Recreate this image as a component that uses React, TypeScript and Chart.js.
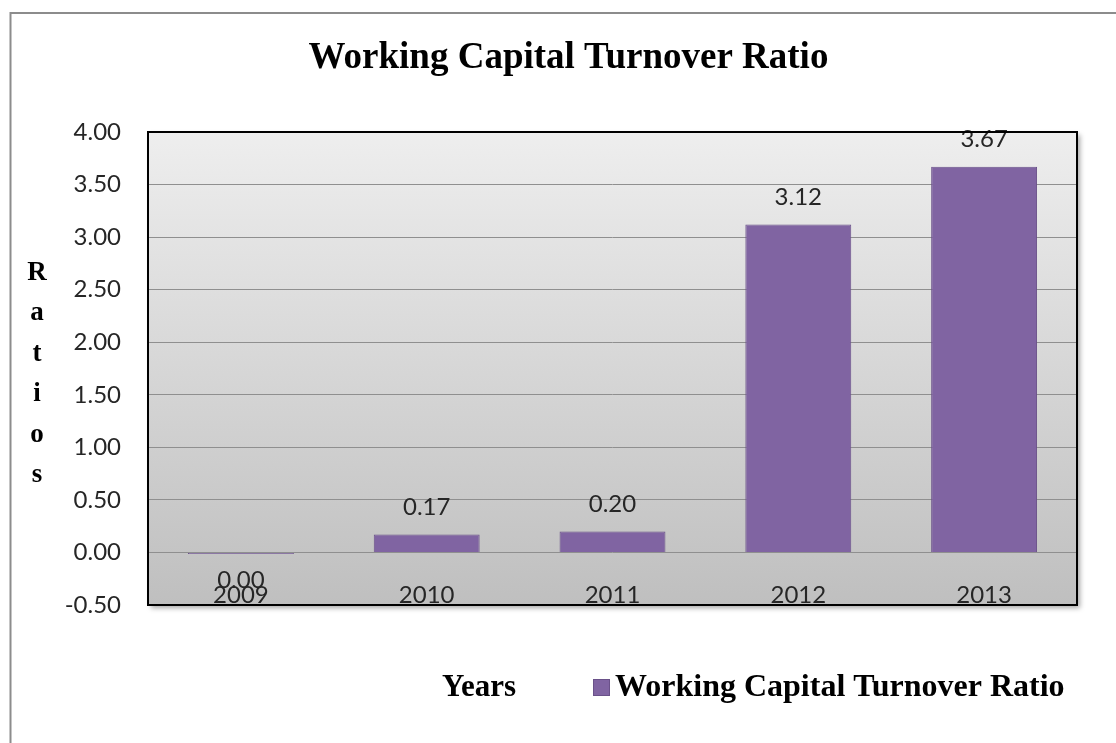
import React, { useEffect, useRef } from "react";
import { Chart, registerables } from "chart.js";

Chart.register(...registerables);

const categories = ["2009", "2010", "2011", "2012", "2013"];
const ratioValues = [-0.015, 0.17, 0.2, 3.12, 3.67];
const ratioLabels = ["0.00", "0.17", "0.20", "3.12", "3.67"];
const seriesName = "Working Capital Turnover Ratio";
const chartTitle = "Working Capital Turnover Ratio";
const yAxisTitleLetters = ["R", "a", "t", "i", "o", "s"];
const xAxisTitle = "Years";
const yMin = -0.5;
const yMax = 4;
const yStep = 0.5;

const SERIF = "'Liberation Serif', 'Times New Roman', serif";
const SANS = "Lato, 'Liberation Sans', sans-serif";

const decorPlugin = {
  id: "decor",
  beforeDraw(chart: any) {
    const { ctx, chartArea: a } = chart;
    ctx.save();
    // outer frame (left + top)
    ctx.strokeStyle = "#8c8c8c";
    ctx.lineWidth = 2;
    ctx.beginPath();
    ctx.moveTo(10.5, 743);
    ctx.lineTo(10.5, 13);
    ctx.lineTo(1116, 13);
    ctx.stroke();
    // plot area background with shadow
    const g = ctx.createLinearGradient(0, a.top, 0, a.bottom);
    g.addColorStop(0, "#eeeeee");
    g.addColorStop(1, "#bfbfbf");
    ctx.shadowColor = "rgba(0,0,0,0.35)";
    ctx.shadowBlur = 5;
    ctx.shadowOffsetX = 3;
    ctx.shadowOffsetY = 3;
    ctx.fillStyle = g;
    ctx.fillRect(a.left, a.top, a.right - a.left, a.bottom - a.top);
    ctx.restore();
  },
  afterDatasetsDraw(chart: any) {
    const { ctx, chartArea: a } = chart;
    ctx.save();

    // category labels, drawn inside the plot along the bottom
    const xs = chart.scales.x;
    ctx.font = `24px ${SANS}`;
    ctx.fillStyle = "#262626";
    ctx.textAlign = "center";
    ctx.textBaseline = "middle";
    categories.forEach((c, i) => {
      ctx.fillText(c, xs.getPixelForTick(i), a.bottom - 10);
    });

    // data labels
    const meta = chart.getDatasetMeta(0);
    meta.data.forEach((bar: any, i: number) => {
      const v = ratioValues[i];
      const y = v >= 0 ? bar.y - 27 : bar.y + 26;
      ctx.fillText(ratioLabels[i], bar.x, y);
    });

    // plot border
    ctx.strokeStyle = "#000000";
    ctx.lineWidth = 2;
    ctx.strokeRect(a.left, a.top, a.right - a.left, a.bottom - a.top);

    // y axis title, stacked letters
    ctx.font = `bold 27px ${SERIF}`;
    ctx.fillStyle = "#000000";
    yAxisTitleLetters.forEach((ch, i) => {
      ctx.fillText(ch, 37, 273 + i * 40.4);
    });

    // x axis title
    ctx.font = `bold 31px ${SERIF}`;
    ctx.textAlign = "left";
    ctx.fillText(xAxisTitle, 442, 688);

    // legend
    const ds = chart.data.datasets[0];
    ctx.fillStyle = ds.backgroundColor;
    ctx.fillRect(593, 679, 17, 17);
    ctx.strokeStyle = ds.borderColor;
    ctx.lineWidth = 1;
    ctx.strokeRect(593.5, 679.5, 16, 16);
    ctx.fillStyle = "#000000";
    ctx.font = `bold 32px ${SERIF}`;
    ctx.fillText(ds.label, 615, 688);
    ctx.restore();
  },
};

export default function App() {
  const canvasRef = useRef<HTMLCanvasElement | null>(null);

  useEffect(() => {
    if (!canvasRef.current) return;
    const chart = new Chart(canvasRef.current, {
      type: "bar",
      data: {
        labels: categories,
        datasets: [
          {
            label: seriesName,
            data: ratioValues,
            backgroundColor: "#8064a2",
            borderColor: "#6a5189",
            borderWidth: 1,
            barPercentage: 0.57,
            categoryPercentage: 1,
          },
        ],
      },
      options: {
        animation: false,
        responsive: true,
        maintainAspectRatio: false,
        layout: { padding: { left: 60, right: 39, top: 22, bottom: 80 } },
        scales: {
          x: {
            grid: { display: false, drawTicks: false },
            border: { display: false },
            ticks: { display: false },
            afterFit: (s: any) => {
              s.height = 58;
            },
          },
          y: {
            min: yMin,
            max: yMax,
            grid: { color: "#8f8f8f", lineWidth: 1, drawTicks: false },
            border: { display: false },
            ticks: {
              stepSize: yStep,
              color: "#262626",
              font: { family: SANS, size: 24 },
              padding: 27,
              callback: (v: any) => Number(v).toFixed(2),
            },
            afterFit: (s: any) => {
              s.width = 88;
            },
          },
        },
        plugins: {
          title: {
            display: true,
            text: chartTitle,
            color: "#000000",
            font: { family: SERIF, size: 37, weight: "bold" },
            padding: { top: 14, bottom: 51.6 },
          },
          legend: { display: false },
          tooltip: { enabled: false },
        },
      },
      plugins: [decorPlugin],
    });
    return () => chart.destroy();
  }, []);

  return (
    <div style={{ position: "fixed", left: 0, top: 0, width: 1116, height: 743, background: "#ffffff" }}>
      <canvas ref={canvasRef} />
    </div>
  );
}
